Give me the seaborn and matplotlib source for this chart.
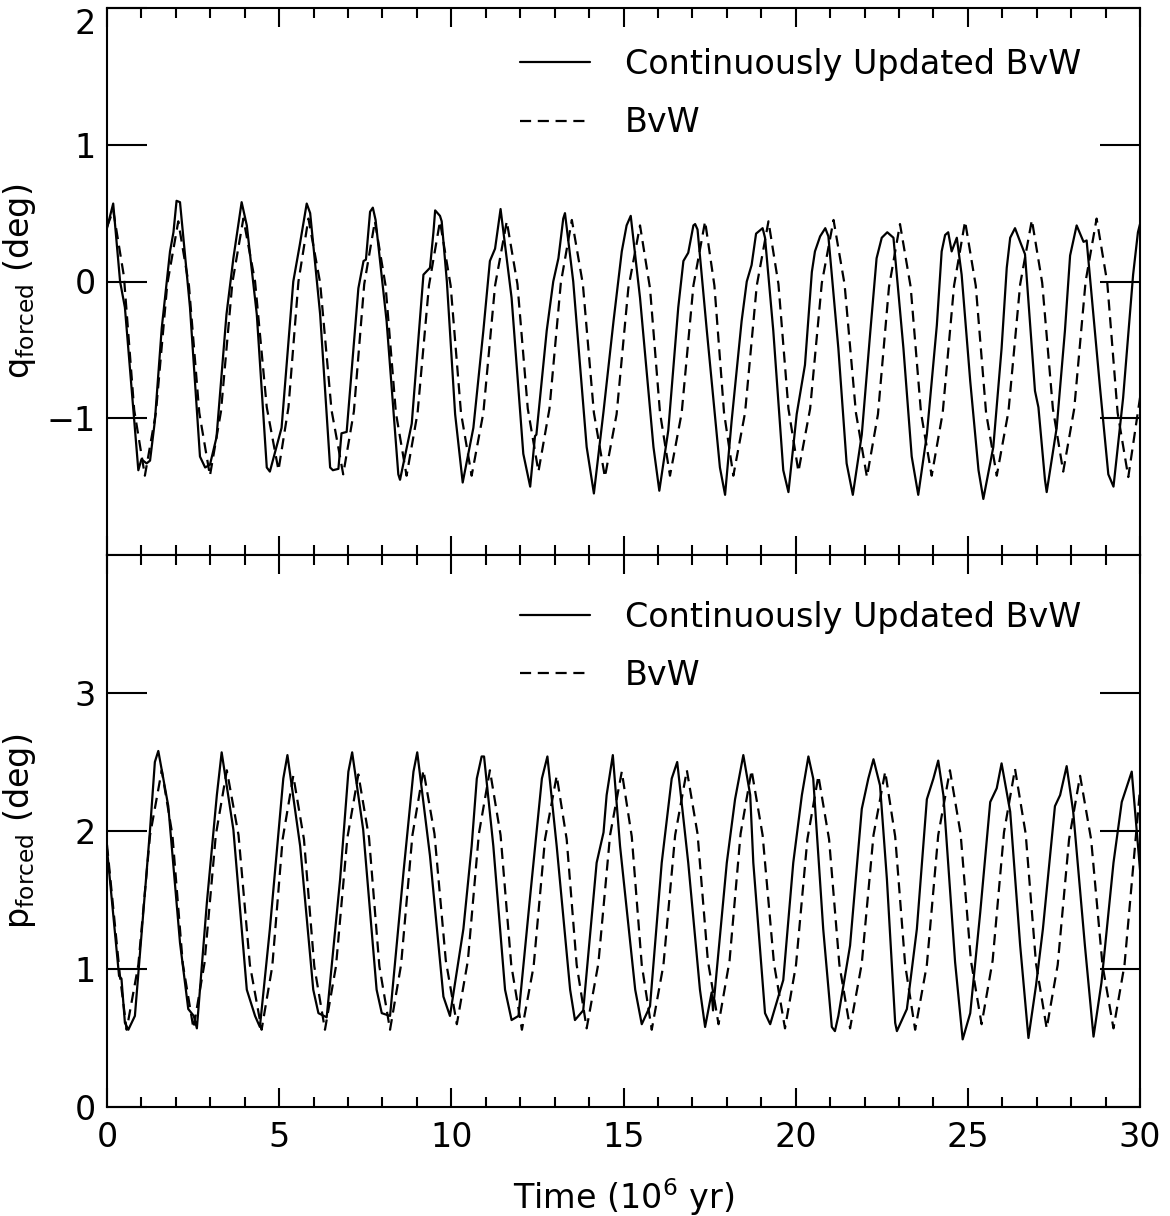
import numpy as np
import pandas as pd
import matplotlib
matplotlib.use("Agg")
import matplotlib.pyplot as plt
from matplotlib.ticker import MultipleLocator, FixedLocator
import seaborn as sns

# ---------------- data ----------------
top_solid_t = [0.00,0.18,0.38,0.52,0.77,0.91,1.00,1.15,1.25,
    1.39,1.59,1.83,1.93,2.02,2.12,2.41,2.70,2.85,2.99,
    3.18,3.47,3.67,3.91,4.06,4.35,4.64,4.73,
    5.07,5.41,5.60,5.80,5.90,6.19,6.48,6.56,6.72,6.81,6.96,
    7.30,7.45,7.52,7.64,7.72,7.80,8.12,8.46,8.51,
    8.85,9.19,9.38,9.48,9.53,9.67,9.72,9.87,10.11,10.33,
    10.64,10.93,11.12,11.27,11.43,11.75,12.09,12.29,
    12.43,12.47,12.77,12.96,13.11,13.25,13.30,13.54,13.93,14.14,
    14.42,14.71,14.95,15.09,15.21,15.48,15.87,16.04,
    16.30,16.59,16.74,16.88,17.03,17.08,17.15,17.42,17.80,17.95,
    18.14,18.43,18.58,18.72,18.85,19.04,19.11,19.35,19.64,19.79,
    20.03,20.27,20.47,20.56,20.71,20.86,20.95,21.24,21.48,21.66,
    21.92,22.16,22.35,22.50,22.66,22.84,23.13,23.37,23.56,
    23.81,24.10,24.24,24.34,24.43,24.53,24.68,24.82,25.07,25.31,25.45,
    25.74,25.98,26.13,26.23,26.37,26.52,26.66,26.95,27.05,27.24,27.29,
    27.58,27.82,27.97,28.16,28.36,28.45,28.84,29.08,29.23,
    29.51,29.80,29.94,30.00]
top_solid_q = [0.39,0.57,0.00,-0.19,-0.95,-1.38,-1.30,-1.33,-1.31,
    -1.02,-0.34,0.22,0.36,0.59,0.58,-0.19,-1.28,-1.36,-1.34,
    -1.14,-0.24,0.17,0.58,0.41,-0.24,-1.36,-1.39,
    -1.07,0.00,0.27,0.57,0.50,-0.24,-1.36,-1.38,-1.37,-1.11,-1.10,
    -0.05,0.15,0.16,0.51,0.54,0.45,-0.29,-1.41,-1.45,
    -1.04,0.05,0.10,0.36,0.52,0.48,0.44,0.00,-0.97,-1.47,
    -1.07,-0.36,0.15,0.24,0.53,-0.12,-1.26,-1.50,
    -1.13,-1.12,-0.36,0.00,0.17,0.46,0.50,0.00,-1.21,-1.55,
    -0.95,-0.29,0.22,0.41,0.48,-0.12,-1.21,-1.53,
    -1.09,-0.19,0.15,0.21,0.41,0.42,0.38,-0.36,-1.36,-1.56,
    -1.02,-0.29,0.00,0.12,0.35,0.39,0.32,-0.36,-1.38,-1.54,
    -0.97,-0.61,0.07,0.22,0.33,0.39,0.33,-0.49,-1.33,-1.56,
    -1.12,-0.39,0.17,0.32,0.36,0.32,-0.49,-1.28,-1.56,
    -1.12,-0.32,0.22,0.34,0.36,0.22,0.32,0.05,-0.73,-1.38,-1.59,
    -1.21,-0.49,0.10,0.32,0.39,0.29,0.20,-0.80,-0.92,-1.45,-1.54,
    -1.07,-0.36,0.19,0.41,0.29,0.30,-0.78,-1.41,-1.50,
    -0.85,0.05,0.36,0.42]

top_dash_t = [0.00,0.18,0.49,0.79,1.10,1.42,1.75,2.07,2.38,2.68,2.99,
    3.31,3.64,3.96,4.30,4.64,4.98,5.27,5.56,5.85,6.19,6.52,6.86,
    7.17,7.47,7.78,8.09,8.39,8.70,9.02,9.35,9.67,9.98,10.28,10.59,
    10.93,11.27,11.61,11.92,12.22,12.53,12.85,13.18,13.50,13.82,14.14,14.46,
    14.80,15.14,15.48,15.77,16.06,16.35,16.69,17.03,17.37,17.64,17.92,18.19,
    18.53,18.87,19.21,19.50,19.79,20.08,20.42,20.76,21.10,21.42,21.75,22.07,
    22.39,22.71,23.03,23.34,23.64,23.95,24.27,24.60,24.92,25.23,25.53,25.84,
    26.18,26.52,26.86,27.16,27.47,27.77,28.09,28.42,28.74,29.05,29.35,29.66,30.00]
top_dash_q = [0.40,0.52,0.04,-0.94,-1.42,-0.96,-0.02,0.44,-0.03,-0.96,-1.42,
    -0.95,-0.01,0.46,0.00,-0.92,-1.38,-0.92,0.00,0.46,-0.01,-0.94,-1.41,
    -0.95,-0.02,0.44,-0.03,-0.96,-1.42,-0.96,-0.03,0.44,-0.03,-0.96,-1.42,
    -0.96,-0.03,0.44,-0.02,-0.93,-1.39,-0.93,-0.01,0.45,-0.02,-0.96,-1.43,
    -0.97,-0.05,0.41,-0.05,-0.96,-1.42,-0.96,-0.03,0.44,-0.03,-0.96,-1.42,
    -0.96,-0.03,0.44,-0.02,-0.93,-1.39,-0.93,-0.01,0.45,-0.02,-0.96,-1.43,
    -0.97,-0.04,0.42,-0.04,-0.96,-1.42,-0.96,-0.03,0.44,-0.03,-0.96,-1.42,
    -0.95,-0.02,0.45,-0.01,-0.93,-1.39,-0.93,0.00,0.46,-0.01,-0.96,-1.43,-0.85]

bot_solid_t = [0.00,0.35,0.42,0.52,0.62,0.81,1.25,1.39,1.49,
    1.78,2.12,2.36,2.52,2.61,2.90,3.19,3.33,
    3.67,4.06,4.30,4.44,4.73,5.12,5.24,
    5.61,5.99,6.14,6.38,6.77,7.01,7.12,
    7.44,7.83,7.98,8.22,8.61,8.90,9.01,
    9.38,9.77,9.96,10.35,10.59,10.74,10.88,10.95,
    11.22,11.56,11.75,11.95,12.29,12.63,12.79,
    13.06,13.45,13.59,13.83,14.22,14.42,14.51,14.69,
    14.90,15.34,15.53,15.77,16.11,16.40,16.56,
    16.88,17.22,17.37,17.56,17.60,18.00,18.24,18.48,
    18.68,18.77,19.11,19.26,19.64,19.93,20.18,20.37,
    20.51,20.80,21.05,21.14,21.24,21.58,21.92,22.11,22.26,
    22.45,22.65,22.89,22.94,23.23,23.52,23.81,24.00,24.14,
    24.29,24.63,24.85,25.07,25.36,25.65,25.84,25.98,
    26.23,26.52,26.76,26.98,27.18,27.53,27.68,27.87,
    28.06,28.40,28.65,28.88,29.23,29.47,29.76,30.00]
bot_solid_p = [1.87,0.95,0.93,0.61,0.56,0.66,2.01,2.50,2.58,
    2.18,1.19,0.71,0.66,0.57,1.48,2.26,2.57,
    2.01,0.85,0.66,0.58,1.29,2.38,2.55,
    1.89,0.85,0.68,0.65,1.65,2.43,2.57,
    2.01,0.85,0.68,0.66,1.70,2.43,2.57,
    1.82,0.80,0.66,1.29,1.89,2.38,2.54,2.54,
    1.89,0.85,0.63,0.66,1.53,2.38,2.54,
    1.89,0.85,0.63,0.70,1.77,1.99,2.26,2.55,
    1.89,0.85,0.60,0.73,1.77,2.38,2.50,
    1.77,0.85,0.58,0.83,0.70,1.77,2.23,2.55,
    2.26,1.77,0.68,0.60,0.92,1.77,2.26,2.54,
    2.38,1.29,0.58,0.55,0.66,1.17,2.16,2.38,2.52,
    2.33,1.65,0.61,0.55,0.71,1.29,2.23,2.38,2.51,
    2.26,1.05,0.49,0.68,1.41,2.21,2.31,2.49,
    2.14,1.17,0.50,0.88,1.29,2.18,2.26,2.47,
    2.14,1.17,0.51,0.90,1.77,2.21,2.43,1.72]

bot_dash_t = [0.00,0.38,0.57,0.91,1.25,1.59,1.90,2.20,2.51,2.83,3.16,3.48,
    3.82,4.15,4.49,4.80,5.10,5.41,5.72,6.02,6.33,6.65,6.98,7.30,
    7.61,7.91,8.22,8.54,8.87,9.19,9.51,9.84,10.16,10.48,10.80,11.12,
    11.43,11.74,12.05,12.39,12.72,13.06,13.35,13.64,13.93,14.27,14.61,14.95,
    15.24,15.53,15.82,16.16,16.50,16.84,17.15,17.45,17.76,18.08,18.40,18.72,
    19.04,19.37,19.69,20.01,20.34,20.66,20.97,21.27,21.58,21.92,22.26,22.60,
    22.89,23.18,23.47,23.81,24.14,24.48,24.79,25.09,25.40,25.72,26.05,26.37,
    26.68,26.98,27.29,27.61,27.94,28.26,28.58,28.91,29.23,29.55,30.00]
bot_dash_p = [1.90,0.94,0.56,1.03,1.97,2.44,1.97,1.04,0.57,1.04,1.97,2.44,
    1.97,1.03,0.56,1.02,1.94,2.40,1.94,1.02,0.56,1.02,1.95,2.41,
    1.95,1.02,0.56,1.03,1.97,2.44,1.98,1.06,0.60,1.06,1.98,2.44,
    1.97,1.03,0.56,1.02,1.94,2.40,1.94,1.03,0.57,1.04,1.97,2.43,
    1.96,1.03,0.56,1.03,1.97,2.44,1.98,1.06,0.60,1.06,1.98,2.44,
    1.97,1.04,0.57,1.03,1.94,2.40,1.94,1.03,0.57,1.04,1.97,2.43,
    1.96,1.03,0.56,1.03,1.97,2.44,1.98,1.06,0.60,1.06,1.99,2.45,
    1.98,1.04,0.57,1.03,1.94,2.40,1.94,1.03,0.57,1.03,2.30]

legend_labels = ["Continuously Updated BvW", "BvW"]
top_yticks = [-1, 0, 1, 2]
bot_yticks = [0, 1, 2, 3]
xticks = [0, 5, 10, 15, 20, 25, 30]

# ---------------- style ----------------
sns.set_style("ticks")
plt.rcParams['font.family'] = ['DejaVu Sans']
plt.rcParams['mathtext.default'] = 'regular'
for k in ['text.color', 'axes.labelcolor', 'xtick.color', 'ytick.color',
          'xtick.labelcolor', 'ytick.labelcolor']:
    plt.rcParams[k] = 'black'
FS = 24
LW = 1.6
DASH = (0, (5, 3))

fig = plt.figure(figsize=(11.7, 12.16), dpi=100)
left, width = 107/1170, 1033/1170
ax_top = fig.add_axes([left, 1 - 555/1216, width, 547/1216])
ax_bot = fig.add_axes([left, 1 - 1107/1216, width, 552/1216], sharex=ax_top)

def draw(ax, ts, vs, td, vd):
    sns.lineplot(x=ts, y=vs, ax=ax, color='black', lw=LW, sort=False,
                 estimator=None, label=legend_labels[0])
    sns.lineplot(x=td, y=vd, ax=ax, color='black', lw=LW, sort=False,
                 estimator=None, linestyle=DASH, label=legend_labels[1])

draw(ax_top, top_solid_t, top_solid_q, top_dash_t, top_dash_q)
draw(ax_bot, bot_solid_t, bot_solid_p, bot_dash_t, bot_dash_p)

for ax, yt, ylim, ly in [(ax_top, top_yticks, (-2, 2), 0.927),
                         (ax_bot, bot_yticks, (0, 4), 0.917)]:
    ax.set_xlim(0, 30)
    ax.set_ylim(*ylim)
    ax.yaxis.set_major_locator(FixedLocator(yt))
    ax.xaxis.set_major_locator(FixedLocator(xticks))
    ax.xaxis.set_minor_locator(MultipleLocator(1))
    ax.tick_params(axis='y', which='major', direction='in', length=29, width=1.5,
                   left=True, right=True, labelsize=FS, pad=8)
    ax.tick_params(axis='x', which='major', direction='in', length=14, width=1.5,
                   top=True, bottom=True, labelsize=FS, pad=10)
    ax.tick_params(axis='x', which='minor', direction='in', length=7, width=1.5,
                   top=True, bottom=True)
    ax.tick_params(axis='y', which='minor', left=False, right=False)
    for s in ax.spines.values():
        s.set_visible(True)
        s.set_linewidth(1.5)
        s.set_color('black')
    leg = ax.legend(loc='upper left', bbox_to_anchor=(0.40, ly),
                    frameon=False, fontsize=FS, handlelength=2.1, handletextpad=1.05,
                    labelspacing=0.76, borderpad=0, borderaxespad=0)
    for line in leg.get_lines():
        line.set_linewidth(LW)
    ax.yaxis.set_label_coords(-0.067, 0.5)

ax_top.tick_params(axis='x', labelbottom=False)
ax_top.set_ylabel(r'q$_{forced}$ (deg)', fontsize=FS)
ax_bot.set_ylabel(r'p$_{forced}$ (deg)', fontsize=FS)
ax_top.yaxis.set_label_coords(-0.067, 0.5)
ax_bot.yaxis.set_label_coords(-0.067, 0.5)
ax_bot.set_xlabel(r'Time (10$^{6}$ yr)', fontsize=FS, labelpad=16)
ax_top.set_xlabel('')

fig.canvas.draw()
ax_top.get_yticklabels()[-1].set_verticalalignment('top')

fig.savefig('out.png', dpi=100)
